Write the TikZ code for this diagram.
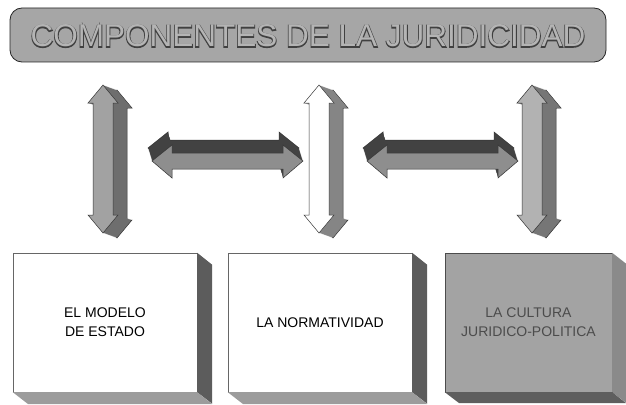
\documentclass[tikz,border=0pt]{standalone}
\usepackage{fontspec}
\setmainfont{Liberation Sans}
\newfontfamily\titleoutline[FakeBold=5]{Liberation Sans}
\definecolor{titlefill}{HTML}{A6A6A6}
\definecolor{titletxt}{HTML}{B4B4B4}
\definecolor{arrLfront}{HTML}{A2A2A2}
\definecolor{arrLside}{HTML}{6E6E6E}
\definecolor{arrMside}{HTML}{858585}
\definecolor{arrRfront}{HTML}{B2B2B2}
\definecolor{arrRside}{HTML}{767676}
\definecolor{harrback}{HTML}{424242}
\definecolor{harrfront}{HTML}{8E8E8E}
\definecolor{boxright}{HTML}{5C5C5C}
\definecolor{boxbottom}{HTML}{9C9C9C}
\definecolor{graybox}{HTML}{A3A3A3}
\definecolor{grayboxright}{HTML}{8A8A8A}
\definecolor{grayboxbottom}{HTML}{5E5E5E}
\newcommand\vshape[1]{\path[#1] (0,0) -- (15,18) -- (10,18) -- (10,130) -- (15,130) -- (0,148) -- (-15,130) -- (-10,130) -- (-10,18) -- (-15,18) -- cycle;}
\newcommand\hshape[1]{\path[#1] (0,0) -- (20,-16) -- (20,-8) -- (131,-8) -- (131,-16) -- (151,0) -- (131,17) -- (131,8) -- (20,8) -- (20,17) -- cycle;}
\tikzset{
  outl/.style={draw=black!80, line width=0.5pt},
  pics/varrow/.style n args={2}{code={
    \vshape{fill=#2, outl, shift={(14,5)}}
    \foreach \t in {13,12,...,1}{\vshape{fill=#2, shift={(\t,\t*0.36)}}}
    \vshape{fill=#1, outl}
  }},
  pics/harrow/.style={code={
    \hshape{fill=harrback, outl, shift={(-4,-13)}}
    \foreach \t in {12,11,...,1}{\hshape{fill=harrback, shift={(-\t*0.31,-\t)}}}
    \hshape{fill=harrfront, outl}
  }},
  titlebox/.style={draw=black!85, line width=0.8pt, fill=titlefill, rounded corners=12pt,
    minimum width=596pt, minimum height=54pt, inner sep=0pt},
  titletext/.style={font=\fontsize{31.5}{31.5}\selectfont, inner sep=0pt, anchor=base},
  frontbox/.style={draw=black!60, line width=0.4pt, minimum width=184pt, minimum height=139pt,
    inner sep=0pt, align=center, font=\fontsize{14}{19}\selectfont},
}
\begin{document}
\begin{tikzpicture}[x=1pt,y=-1pt]
\useasboundingbox[fill=white] (0,0) rectangle (626,404);
% title
\node[titlebox] (title) at (308,35) {};
\coordinate (tbase) at (308,47);
\node[titletext, text=black!75, font=\titleoutline\fontsize{31.5}{31.5}\selectfont] at (tbase) {COMPONENTES DE LA JURIDICIDAD};
\node[titletext, text=titletxt] (titletext) at (tbase) {COMPONENTES DE LA JURIDICIDAD};
% vertical arrows
\pic (va1) at (103,85) {varrow={arrLfront}{arrLside}};
\pic (va2) at (319,85) {varrow={white}{arrMside}};
\pic (va3) at (532,85) {varrow={arrRfront}{arrRside}};
% horizontal arrows
\pic (ha1) at (152,161) {harrow};
\pic (ha2) at (367,161) {harrow};
% boxes
\node[frontbox, fill=white] (b1) at (105,322.5) {EL MODELO\\DE ESTADO};
\fill[boxright] (b1.north east) -- ++(15,12) -- ++(0,139) -- (b1.south east) -- cycle;
\fill[boxbottom] (b1.south west) -- (b1.south east) -- ++(15,12) -- ++(-184,0) -- cycle;
\node[frontbox, fill=white] (b2) at (320,322.5) {LA NORMATIVIDAD};
\fill[boxright] (b2.north east) -- ++(15,12) -- ++(0,139) -- (b2.south east) -- cycle;
\fill[boxbottom] (b2.south west) -- (b2.south east) -- ++(15,12) -- ++(-184,0) -- cycle;
\node[frontbox, fill=graybox, minimum width=167pt, draw=black!70, text=black!70] (b3) at (528.5,322.5) {LA CULTURA\\JURIDICO-POLITICA};
\fill[grayboxright] (b3.north east) -- ++(14,11) -- ++(0,139) -- (b3.south east) -- cycle;
\fill[grayboxbottom] (b3.south west) -- (b3.south east) -- ++(14,11) -- ++(-167,0) -- cycle;
\end{tikzpicture}
\end{document}
